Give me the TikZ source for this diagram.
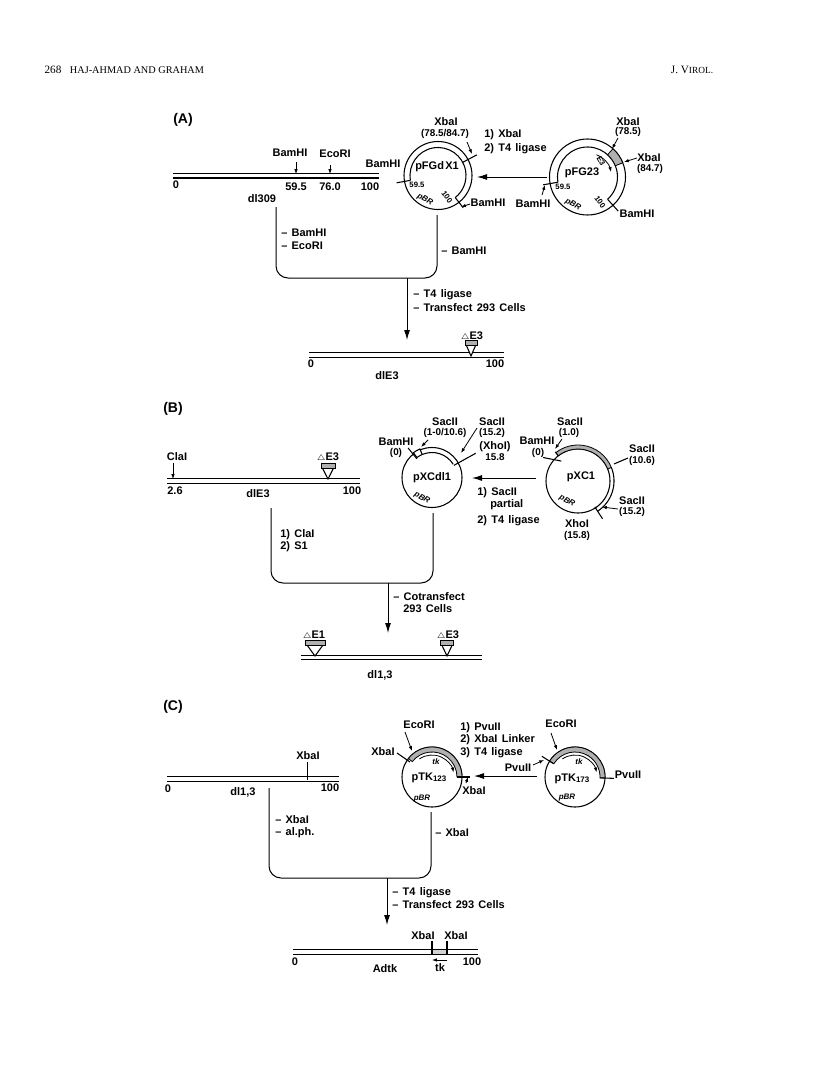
\documentclass[tikz,border=0pt]{standalone}
\usepackage{fontspec}
\setmainfont[WordSpace=1.4]{Liberation Sans}
\newfontfamily\headfont{Liberation Serif}
\usetikzlibrary{arrows.meta,patterns}
\pgfdeclarepatternformonly{fine dots}{\pgfqpoint{-.5pt}{-.5pt}}{\pgfqpoint{.5pt}{.5pt}}{\pgfqpoint{1.5pt}{1.5pt}}{\pgfpathcircle{\pgfpointorigin}{.4pt}\pgfusepath{fill}}
\tikzset{
  lab/.style={font=\fontsize{8.25}{9.5}\selectfont\bfseries,inner sep=0pt},
  small lab/.style={font=\fontsize{7.4}{9}\selectfont\bfseries,inner sep=0pt},
  tiny lab/.style={font=\fontsize{5.8}{7}\selectfont\bfseries,inner sep=0pt},
  pbr lab/.style={font=\fontsize{6}{7}\selectfont\bfseries\itshape,inner sep=0pt},
  step lab/.style={lab,anchor=west},
  panel lab/.style={font=\fontsize{10.5}{12}\selectfont\bfseries,inner sep=0pt},
  head lab/.style={font=\fontsize{8.4}{10}\selectfont\headfont,inner sep=0pt},
  strand/.style={double,double distance=2.6pt,line width=.8pt},
  tick line/.style={line width=.8pt},
  ring/.style={line width=.8pt},
  route/.style={line width=.75pt,rounded corners=9pt},
  site arrow/.style={line width=.6pt,-{Latex[length=3.6pt,width=2.6pt]}},
  main arrow/.style={line width=.75pt,-{Latex[length=7.5pt,width=4.5pt]}},
  stipple/.style={line width=.6pt,preaction={fill=black!40},pattern=fine dots,pattern color=white},
}
% annular piece of a plasmid: start, end, inner radius, outer radius
\newcommand{\ringband}[5][]{\draw[ring,#1] (#2:#4) arc[start angle=#2,end angle=#3,radius=#4] -- (#3:#5) arc[start angle=#3,end angle=#2,radius=#5] -- cycle;}
% deletion marker sitting on a strand: x, apex y, half width
\newcommand{\delmark}[3]{%
  \draw[ring,fill=white] (#1-0.8*#3,#2+11) -- (#1,#2) -- (#1+0.8*#3,#2+11);
  \draw[stipple] (#1-#3,#2+11) rectangle (#1+#3,#2+15.5);}
\begin{document}
\begin{tikzpicture}[x=.75pt,y=.75pt]
\useasboundingbox (0,0) rectangle (816,-1077);
\fill[white] (0,0) rectangle (816,-1077);
\node[head lab] (page) at (53,-70) {268};
\node[head lab,font=\fontsize{7.7}{10}\selectfont\headfont] (authors) at (137,-70) {HAJ-AHMAD AND GRAHAM};
\node[head lab] (journal) at (692,-70) {J. V{\fontsize{7}{9}\selectfont IROL.}};

%%% (A)
\node[panel lab] (labA) at (183,-120) {(A)};
\coordinate (a0) at (173,-175.7); \coordinate (a1) at (379,-175.7);
\draw[strand] (a0) -- (a1);
\node[lab] (a zero) at (176,-185) {0};
\node[lab] (a595) at (296,-187) {59.5};
\node[lab] (a760) at (330,-187) {76.0};
\node[lab] (a100) at (370,-187) {100};
\node[lab] (dl309) at (262,-199) {dl309};
\node[lab] (a bam) at (290,-153) {BamHI};
\node[lab] (a eco) at (335,-154) {EcoRI};
\coordinate (a2) at (296,-162); \coordinate (a3) at (296,-174);
\coordinate (a4) at (330,-165); \coordinate (a5) at (330,-174);
\draw[site arrow] (a2) -- (a3);
\draw[site arrow] (a4) -- (a5);
\begin{scope}[shift={(438,-175.5)}]
\draw[ring] (0,0) circle[radius=34];
\draw[ring] (190:28) arc[start angle=190,end angle=-52,radius=28];
\draw[tick line] (190:28) -- (190:42);
\draw[tick line] (-52:28) -- (-52:41);
\draw[tick line] (28:28) -- (28:44);
\end{scope}
\node[lab] (pFGd) at (437,-167) {pFGd\hspace{1pt}X1};
\node[tiny lab] (fg595) at (417,-185) {59.5};
\node[pbr lab,rotate=-30] (fgpbr) at (425,-200) {pBR};
\node[tiny lab,rotate=-55] (fg100) at (447,-197) {100};
\node[lab] (fg bam l) at (383,-164) {BamHI};
\node[lab] (fg xba) at (446,-122) {XbaI};
\node[small lab] (fg xbap) at (445,-134) {(78.5/84.7)};
\node[lab] (fg bam r) at (488,-203) {BamHI};
\node[step lab] (a s1) at (484,-135) {1) XbaI};
\node[step lab] (a s2) at (484,-149) {2) T4 ligase};
\coordinate (a6) at (467,-142); \coordinate (a7) at (472,-154);
\coordinate (a8) at (470,-204); \coordinate (a9) at (461,-207);
\draw[site arrow] (a6) -- (a7);
\draw[site arrow] (a8) -- (a9);
\coordinate (a10) at (547,-177); \coordinate (a11) at (477,-177);
\draw[main arrow] (a10) -- (a11);
\begin{scope}[shift={(587.5,-177)}]
\draw[ring] (0,0) circle[radius=38];
\draw[ring] (190:30) arc[start angle=190,end angle=-48,radius=30];
\draw[tick line] (190:30) -- (190:45);
\draw[tick line] (-48:30) -- (-48:46);
\ringband[stipple]{48}{22}{30}{38}
\draw[site arrow] (68:24) arc[start angle=68,end angle=12,radius=24];
\end{scope}
\node[lab] (pFG23) at (582,-173) {pFG23};
\node[tiny lab,rotate=-60] (fgE3) at (601,-161) {E3};
\node[tiny lab] (g595) at (563,-187) {59.5};
\node[pbr lab,rotate=-30] (gpbr) at (573,-205) {pBR};
\node[tiny lab,rotate=-55] (g100) at (600,-202) {100};
\node[lab] (g xba1) at (628,-122) {XbaI};
\node[small lab] (g xba1p) at (628,-132) {(78.5)};
\node[lab] (g xba2) at (649,-158) {XbaI};
\node[small lab] (g xba2p) at (650,-169) {(84.7)};
\node[lab] (g bam l) at (533,-204) {BamHI};
\node[lab] (g bam r) at (637,-214) {BamHI};
\coordinate (a12) at (618,-138); \coordinate (a13) at (612,-149);
\coordinate (a14) at (637,-158); \coordinate (a15) at (624,-162);
\coordinate (a16) at (542,-195); \coordinate (a17) at (545,-185);
\draw[site arrow] (a12) -- (a13);
\draw[site arrow] (a14) -- (a15);
\draw[site arrow] (a16) -- (a17);
\coordinate (a18) at (276,-207); \coordinate (a19) at (276,-278);
\coordinate (a20) at (437,-278); \coordinate (a21) at (437,-215);
\coordinate (a22) at (407,-278); \coordinate (a23) at (407,-340);
\draw[route] (a18) -- (a19) -- (a20) -- (a21);
\draw[main arrow] (a22) -- (a23);
\node[step lab] (a s3) at (281,-233) {-- BamHI};
\node[step lab] (a s4) at (281,-246) {-- EcoRI};
\node[step lab] (a s5) at (441,-251) {-- BamHI};
\node[step lab] (a s6) at (413,-295) {-- T4 ligase};
\node[step lab] (a s7) at (413,-308) {-- Transfect 293 Cells};
\coordinate (a24) at (309,-355); \coordinate (a25) at (504,-355);
\draw[strand] (a24) -- (a25);
\delmark{471}{-356}{6}
\node[lab] (a e3) at (472,-336) {$\scriptstyle\triangle$E3};
\node[lab] (e zero) at (311,-364) {0};
\node[lab] (e100) at (495,-364) {100};
\node[lab] (dlE3) at (387,-376) {dlE3};

%%% (B)
\node[panel lab] (labB) at (173,-409) {(B)};
\coordinate (b0) at (167,-481); \coordinate (b1) at (360,-481);
\draw[strand] (b0) -- (b1);
\delmark{328}{-479}{7}
\node[lab] (b e3) at (328,-457) {$\scriptstyle\triangle$E3};
\node[lab] (b cla) at (177,-457) {ClaI};
\coordinate (b2) at (173,-463); \coordinate (b3) at (173,-479);
\draw[site arrow] (b2) -- (b3);
\node[lab] (b26) at (175,-491) {2.6};
\node[lab] (b dle3) at (258,-494) {dlE3};
\node[lab] (b100) at (352,-491) {100};
\begin{scope}[shift={(432,-477.5)}]
\draw[ring] (0,0) circle[radius=30];
\draw[ring] (113:25) arc[start angle=113,end angle=32,radius=25];
\ringband[fill=white]{127}{113}{25}{31}
\draw[tick line] (129:24) -- (129:38);
\draw[tick line] (29:25) -- (29:50);
\end{scope}
\node[lab] (pXCdl1) at (432,-478) {pXCdl1};
\node[pbr lab,rotate=-30] (xpbr) at (422,-498) {pBR};
\node[lab] (x bam) at (396,-442) {BamHI};
\node[small lab] (x bamp) at (396,-453) {(0)};
\node[lab] (x sac1) at (445,-422) {SacII};
\node[small lab] (x sac1p) at (445,-433) {(1-0/10.6)};
\node[lab] (x sac2) at (492,-422) {SacII};
\node[small lab] (x sac2p) at (492,-433) {(15.2)};
\node[lab] (x xho) at (495,-447) {(XhoI)};
\node[small lab] (x xhop) at (495,-457) {15.8};
\coordinate (b4) at (428,-440); \coordinate (b5) at (421,-447);
\coordinate (b6) at (477,-428); \coordinate (b7) at (461,-453);
\draw[site arrow] (b4) -- (b5);
\draw[site arrow] (b6) -- (b7);
\coordinate (b8) at (536,-478); \coordinate (b9) at (472,-478);
\draw[main arrow] (b8) -- (b9);
\node[step lab] (b s1) at (477,-493) {1) SacII};
\node[step lab] (b s2) at (490,-505) {partial};
\node[step lab] (b s3) at (477,-521) {2) T4 ligase};
\begin{scope}[shift={(578,-481)}]
\draw[ring] (0,0) circle[radius=32];
\ringband[stipple]{128}{22}{32}{36}
\draw[ring] (22:36) arc[start angle=22,end angle=-57,radius=36];
\draw[tick line] (-57:31) -- (-57:45);
\draw[tick line] (130:26) -- (146:42);
\draw[tick line] (128:32) -- (128:37);
\end{scope}
\node[lab] (pXC1) at (581,-477) {pXC1};
\node[pbr lab,rotate=-30] (cpbr) at (567,-501) {pBR};
\node[lab] (c sac1) at (570,-422) {SacII};
\node[small lab] (c sac1p) at (569,-433) {(1.0)};
\node[lab] (c bam) at (537,-441) {BamHI};
\node[small lab] (c bamp) at (538,-453) {(0)};
\node[lab] (c sac2) at (642,-449) {SacII};
\node[small lab] (c sac2p) at (642,-461) {(10.6)};
\node[lab] (c sac3) at (632,-501) {SacII};
\node[small lab] (c sac3p) at (632,-512) {(15.2)};
\node[lab] (c xho) at (577,-524) {XhoI};
\node[small lab] (c xhop) at (577,-536) {(15.8)};
\coordinate (b10) at (562,-439); \coordinate (b11) at (555,-449);
\coordinate (b12) at (628,-458); \coordinate (b13) at (614,-464);
\coordinate (b14) at (618,-509); \coordinate (b15) at (602,-507);
\draw[site arrow] (b10) -- (b11);
\draw[tick line] (b12) -- (b13);
\draw[site arrow] (b14) -- (b15);
\coordinate (b16) at (271,-508); \coordinate (b17) at (271,-583);
\coordinate (b18) at (433,-583); \coordinate (b19) at (433,-513);
\coordinate (b20) at (388,-583); \coordinate (b21) at (388,-633);
\draw[route] (b16) -- (b17) -- (b18) -- (b19);
\draw[main arrow] (b20) -- (b21);
\node[step lab] (b s4) at (280,-535) {1) ClaI};
\node[step lab] (b s5) at (280,-547) {2) S1};
\node[step lab] (b s6) at (393,-597) {-- Cotransfect};
\node[step lab] (b s7) at (403,-609) {293 Cells};
\coordinate (b22) at (301,-657.5); \coordinate (b23) at (482,-657.5);
\draw[strand] (b22) -- (b23);
\delmark{315}{-656}{10}
\delmark{447}{-656}{6.5}
\node[lab] (d e1) at (314,-635) {$\scriptstyle\triangle$E1};
\node[lab] (d e3) at (448,-635) {$\scriptstyle\triangle$E3};
\node[lab] (dl13) at (380,-675) {dl1,3};

%%% (C)
\node[panel lab] (labC) at (173,-707) {(C)};
\coordinate (c0) at (167,-779); \coordinate (c1) at (339,-779);
\draw[strand] (c0) -- (c1);
\node[lab] (c xba) at (308,-756) {XbaI};
\coordinate (c2) at (307.5,-762); \coordinate (c3) at (307.5,-780);
\draw[tick line] (c2) -- (c3);
\node[lab] (c zero) at (168,-789) {0};
\node[lab] (c dl13) at (243,-792) {dl1,3};
\node[lab] (c100) at (330,-788) {100};
\begin{scope}[shift={(432,-777)}]
\draw[ring] (0,0) circle[radius=30];
\ringband[stipple]{142}{0}{25}{30}
\draw[tick line] (0:25) -- (0:38);
\draw[site arrow] (125:22) arc[start angle=125,end angle=12,radius=22];
\end{scope}
\node[lab] (pTK123) at (429,-778) {pTK{\fontsize{6}{7}\selectfont\raisebox{-1pt}{123}}};
\node[pbr lab] (kpbr) at (422,-799) {pBR};
\node[pbr lab] (ktk) at (436,-762) {tk};
\node[lab] (k eco) at (419,-725) {EcoRI};
\node[lab] (k xba l) at (383,-752) {XbaI};
\node[lab] (k xba r) at (474,-791) {XbaI};
\node[step lab] (c s1) at (460,-728) {1) PvuII};
\node[step lab] (c s2) at (460,-740) {2) XbaI Linker};
\node[step lab] (c s3) at (460,-753) {3) T4 ligase};
\coordinate (c4) at (405,-732); \coordinate (c5) at (412,-751);
\coordinate (c6) at (397,-753); \coordinate (c7) at (410,-762);
\coordinate (c8) at (466,-783); \coordinate (c9) at (468,-777);
\draw[site arrow] (c4) -- (c5);
\draw[tick line] (c6) -- (c7);
\draw[site arrow] (c8) -- (c9);
\coordinate (c10) at (537,-776); \coordinate (c11) at (474,-776);
\draw[main arrow] (c10) -- (c11);
\begin{scope}[shift={(575,-777)}]
\draw[ring] (0,0) circle[radius=30];
\ringband[stipple]{148}{-2}{25}{30}
\draw[tick line] (-2:25) -- (-2:39);
\draw[tick line] (148:26) -- (148:39);
\draw[site arrow] (125:22) arc[start angle=125,end angle=12,radius=22];
\end{scope}
\node[lab] (pTK173) at (572,-779) {pTK{\fontsize{6}{7}\selectfont\raisebox{-1pt}{173}}};
\node[pbr lab] (lpbr) at (567,-798) {pBR};
\node[pbr lab] (ltk) at (579,-762) {tk};
\node[lab] (l eco) at (561,-724) {EcoRI};
\node[lab] (l pvu l) at (518,-768) {PvuII};
\node[lab] (l pvu r) at (628,-775) {PvuII};
\coordinate (c12) at (551,-733); \coordinate (c13) at (557,-750);
\coordinate (c14) at (533,-765); \coordinate (c15) at (544,-760);
\draw[site arrow] (c12) -- (c13);
\draw[site arrow] (c14) -- (c15);
\coordinate (c16) at (269,-788); \coordinate (c17) at (269,-878);
\coordinate (c18) at (431,-878); \coordinate (c19) at (431,-812);
\coordinate (c20) at (387,-878); \coordinate (c21) at (387,-925);
\draw[route] (c16) -- (c17) -- (c18) -- (c19);
\draw[main arrow] (c20) -- (c21);
\node[step lab] (c s4) at (275,-820) {-- XbaI};
\node[step lab] (c s5) at (275,-833) {-- al.ph.};
\node[step lab] (c s6) at (435,-833) {-- XbaI};
\node[step lab] (c s7) at (392,-893) {-- T4 ligase};
\node[step lab] (c s8) at (392,-905) {-- Transfect 293 Cells};
\coordinate (c22) at (293,-952); \coordinate (c23) at (478,-952);
\draw[strand] (c22) -- (c23);
\fill[pattern=fine dots,pattern color=black!75] (432,-950.5) rectangle (447,-953.5);
\coordinate (c24) at (432,-941); \coordinate (c25) at (432,-954);
\coordinate (c26) at (447,-941); \coordinate (c27) at (447,-954);
\draw[tick line] (c24) -- (c25);
\draw[tick line] (c26) -- (c27);
\node[lab] (t xba1) at (423,-936) {XbaI};
\node[lab] (t xba2) at (456,-936) {XbaI};
\node[lab] (t zero) at (295,-962) {0};
\node[lab] (t100) at (472,-962) {100};
\node[lab] (Adtk) at (385,-969) {Adtk};
\node[lab] (t tk) at (440,-968) {tk};
\coordinate (c28) at (447,-960); \coordinate (c29) at (432,-960);
\draw[site arrow] (c28) -- (c29);
\end{tikzpicture}
\end{document}
